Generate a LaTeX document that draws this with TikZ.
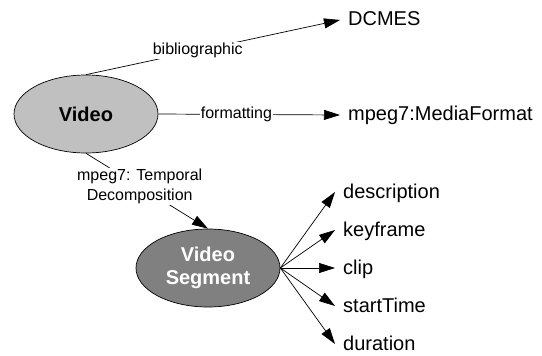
\documentclass[tikz,border=0pt]{standalone}
\usepackage{fontspec}
\setmainfont{Liberation Sans}
\usetikzlibrary{arrows.meta,shapes.geometric}
\begin{document}
\begin{tikzpicture}[x=1pt,y=-1pt,
  ell/.style={ellipse,draw,line width=0.7pt,minimum width=144pt,minimum height=78pt,inner sep=0pt,align=center,font=\fontsize{20}{23}\selectfont\bfseries},
  term/.style={anchor=west,inner xsep=8pt,inner ysep=0pt,text height=14pt,text depth=2pt,font=\fontsize{20}{23}\selectfont},
  lbl/.style={fill=white,inner sep=1pt,align=center,font=\fontsize{16}{20}\selectfont},
  conn/.style={line width=0.7pt,-{Triangle[length=16pt,width=10pt]}}]
\useasboundingbox (0,0) rectangle (542,356);
\node[ell,fill={rgb,255:red,192;green,192;blue,192}] (video) at (86,114) {Video};
\node[ell,fill={rgb,255:red,128;green,128;blue,128},text=white] (seg) at (208,268) {Video\\Segment};
\node[term] (dcmes) at (340,20) {DCMES};
\node[term] (mf) at (340,115) {mpeg7:MediaFormat};
\node[term] (desc) at (335,192) {description};
\node[term] (key) at (335,230) {keyframe};
\node[term] (clip) at (335,268) {clip};
\node[term] (start) at (335,306) {startTime};
\node[term] (dur) at (335,344) {duration};
\draw[conn] (video.north) -- node[lbl,pos=0.44] (lb) {bibliographic} (dcmes.west);
\draw[conn] (video.east) -- node[lbl,pos=0.43] (lf) {formatting} (mf.west);
\draw[conn] (video.south) -- node[lbl,pos=0.44] (lt) {mpeg7: Temporal\\Decomposition} (seg.north);
\draw[conn] (seg.east) -- (desc.west);
\draw[conn] (seg.east) -- (key.west);
\draw[conn] (seg.east) -- (clip.west);
\draw[conn] (seg.east) -- (start.west);
\draw[conn] (seg.east) -- (dur.west);
\end{tikzpicture}
\end{document}
